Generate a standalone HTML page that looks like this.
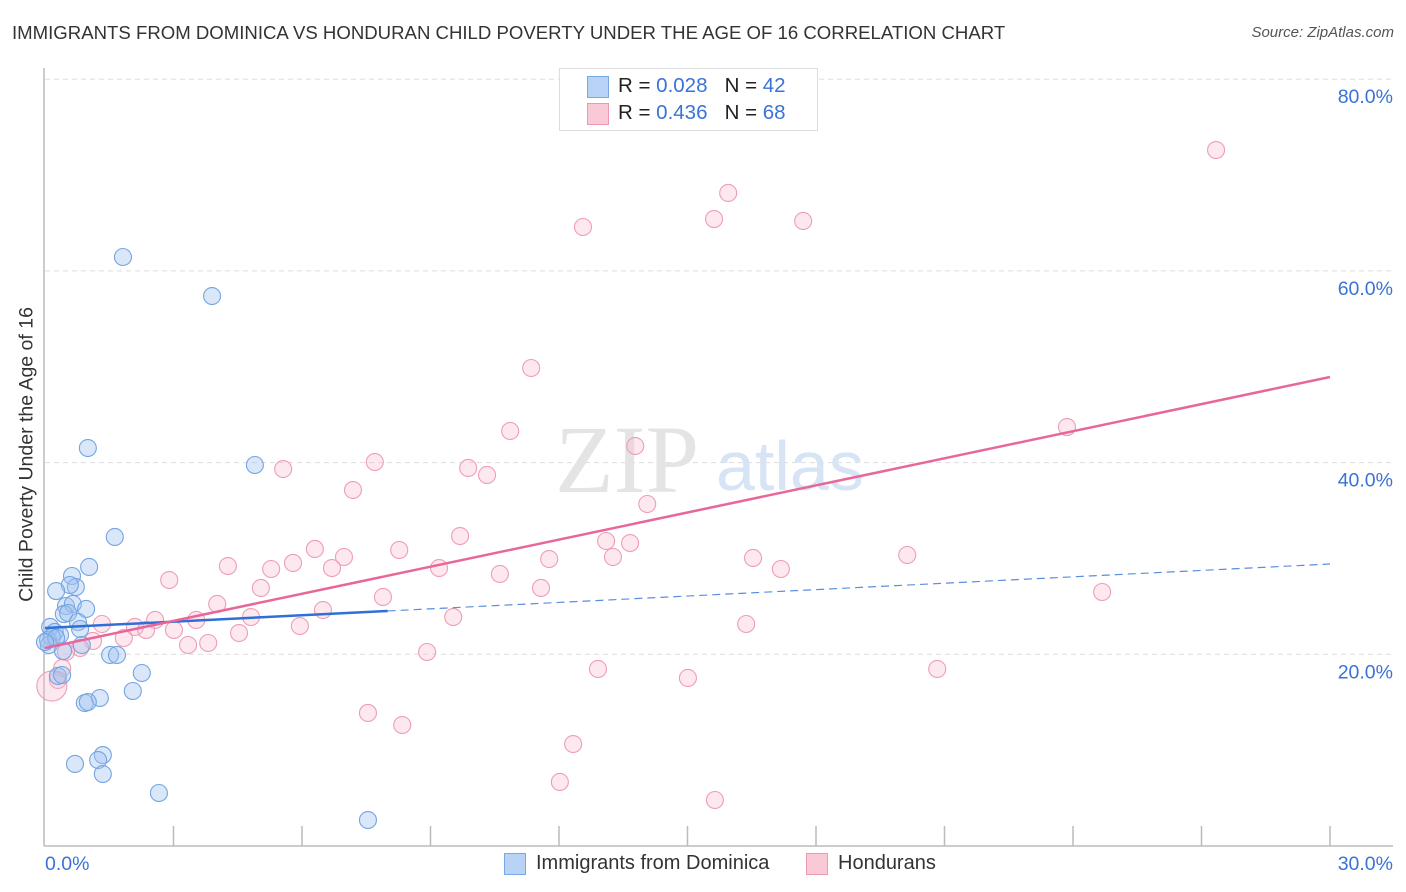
<!DOCTYPE html>
<html><head><meta charset="utf-8">
<style>
body{margin:0;background:#fff;font-family:"Liberation Sans",sans-serif;}
#wrap{position:relative;width:1406px;height:892px;overflow:hidden;}
.t{position:absolute;white-space:nowrap;}
</style></head>
<body>
<div id="wrap">
<div class="t" style="left:12px;top:22px;font-size:18.6px;color:#333;">IMMIGRANTS FROM DOMINICA VS HONDURAN CHILD POVERTY UNDER THE AGE OF 16 CORRELATION CHART</div>
<div class="t" style="right:12px;top:24px;font-size:15px;color:#555;font-style:italic;">Source: ZipAtlas.com</div>
<div class="t" style="left:-123px;top:443px;font-size:19.5px;color:#333;transform:rotate(-90deg);width:300px;text-align:center;">Child Poverty Under the Age of 16</div>
<svg id="svg" width="1406" height="892" style="position:absolute;left:0;top:0"></svg>
<div style="position:absolute;left:559px;top:68px;width:257px;height:61px;border:1px solid #ddd;background:#fff;">
 <div style="position:absolute;left:27px;top:7px;width:20px;height:20px;background:#b8d3f5;border:1px solid #7aa8e6;"></div>
 <div class="t" style="left:58px;top:5px;font-size:20.5px;color:#222;">R = <span style="color:#3a73d8">0.028</span>&nbsp;&nbsp;&nbsp;N = <span style="color:#3a73d8">42</span></div>
 <div style="position:absolute;left:27px;top:34px;width:20px;height:20px;background:#f9c9d6;border:1px solid #ec9ab3;"></div>
 <div class="t" style="left:58px;top:32px;font-size:20.5px;color:#222;">R = <span style="color:#3a73d8">0.436</span>&nbsp;&nbsp;&nbsp;N = <span style="color:#3a73d8">68</span></div>
</div>
<div style="position:absolute;left:504px;top:853px;width:20px;height:20px;background:#b8d3f5;border:1px solid #7aa8e6;"></div>
<div class="t" style="left:536px;top:852px;font-size:20px;color:#333;">Immigrants from Dominica</div>
<div style="position:absolute;left:806px;top:853px;width:20px;height:20px;background:#f9c9d6;border:1px solid #ec9ab3;"></div>
<div class="t" style="left:838px;top:852px;font-size:20px;color:#333;">Hondurans</div>
</div>
<script>
const blueX=[1.82,3.90,1.00,4.90,1.63,1.03,0.63,0.72,0.58,0.26,0.49,0.65,0.96,0.44,0.54,0.77,0.82,0.12,0.23,0.35,0.07,0.16,0.09,0.42,0.86,1.52,1.68,2.26,0.30,0.40,2.05,1.28,0.93,1.00,1.35,0.70,1.24,1.35,2.66,7.54,0.26,0.00];
const blueY=[61.45,57.38,41.52,39.75,32.24,29.11,28.17,27.02,27.23,26.60,25.04,25.25,24.73,24.20,24.31,23.37,22.64,22.85,22.33,22.01,21.49,21.80,20.97,20.34,20.97,19.93,19.93,18.05,17.74,17.84,16.17,15.44,14.92,15.02,9.49,8.56,8.97,7.51,5.53,2.71,21.70,21.28];
const pinkX=[27.34,15.95,12.56,15.62,17.70,11.35,23.86,10.86,13.78,7.70,5.56,9.88,10.32,7.19,14.06,9.69,13.10,13.66,6.30,8.27,6.98,5.79,11.77,16.53,20.13,13.26,4.27,5.28,6.70,9.20,10.62,2.90,17.18,5.04,11.58,24.68,7.89,4.02,6.49,9.53,4.81,2.57,3.53,2.10,2.36,1.33,3.01,5.95,16.37,4.53,1.84,1.12,3.81,3.34,0.82,0.49,8.92,12.91,20.83,15.01,0.40,0.30,7.54,8.34,12.33,12.02,15.64,0.16];
const pinkY=[72.61,68.13,64.58,65.41,65.21,49.87,43.71,43.30,41.73,40.06,39.33,39.44,38.71,37.14,35.68,32.34,31.82,31.61,30.99,30.88,30.15,29.53,29.94,30.05,30.36,30.15,29.21,28.90,29.00,29.00,28.38,27.75,28.90,26.92,26.92,26.50,25.98,25.25,24.62,23.89,23.89,23.58,23.58,22.85,22.54,23.16,22.54,22.95,23.16,22.22,21.70,21.39,21.18,20.97,20.66,20.24,20.24,18.47,18.47,17.53,18.57,17.32,13.88,12.62,10.64,6.68,4.80,16.69];
const yTicks=[20,40,60,80];
const yTickLabels=["20.0%","40.0%","60.0%","80.0%"];
const xTickLabels=["0.0%","30.0%"];
const blueTrend=[22.74,29.42];
const pinkTrend=[20.66,48.93];
const blueSolidEnd=8.0;

const X=v=>45+v*(1285/30);
const Y=v=>846-v*9.585;
const svg=document.getElementById('svg');
const NS='http://www.w3.org/2000/svg';
function mk(t,a){const e=document.createElementNS(NS,t);for(const k in a)e.setAttribute(k,a[k]);svg.appendChild(e);return e;}
yTicks.forEach((v,i)=>{
 const g=mk('line',{x1:45,x2:1393,y1:Y(v),y2:Y(v),stroke:'#ddd','stroke-dasharray':'5,4'});
 
 
 const t=mk('text',{x:1393,y:Y(v)+24,'text-anchor':'end','font-size':19.5,fill:'#3a73d8','font-family':'Liberation Sans, sans-serif'});
 t.textContent=yTickLabels[i];
 
 
});
const ax=mk('line',{x1:44,x2:44,y1:68,y2:846,stroke:'#bbb','stroke-width':1.5});


const bx=mk('line',{x1:44,x2:1393,y1:846,y2:846,stroke:'#bbb','stroke-width':1.5});


for(let i=1;i<=10;i++){const tk=mk('line',{x1:X(i*3),x2:X(i*3),y1:826,y2:846,stroke:'#bbb','stroke-width':1.5});
 
 }
[[0,'start',45],[1,'end',1393]].forEach(([i,a,x])=>{const t=mk('text',{x:x,y:870,'text-anchor':a,'font-size':19.5,fill:'#3a73d8','font-family':'Liberation Sans, sans-serif'});t.textContent=xTickLabels[i];
 
 });
const wm=mk('text',{x:555,y:492,'font-size':96,fill:'#e4e4e4','font-family':'Liberation Serif, serif'});wm.textContent='ZIP';


const wm2=mk('text',{x:716,y:490,'font-size':70,fill:'#d6e4f6','font-family':'Liberation Sans, sans-serif'});wm2.textContent='atlas';


pinkX.forEach((x,i)=>{const c=mk('circle',{cx:X(x),cy:Y(pinkY[i]),r:i==pinkX.length-1?15:8.5,fill:'rgba(248,188,208,0.35)',stroke:'#ee9db5','stroke-width':1.1});
 
 });
blueX.forEach((x,i)=>{const c=mk('circle',{cx:X(x),cy:Y(blueY[i]),r:8.5,fill:'rgba(160,196,240,0.4)',stroke:'#74a4e2','stroke-width':1.1});
 
 });
const bt=v=>blueTrend[0]+(blueTrend[1]-blueTrend[0])*v/30;
const l1=mk('line',{x1:X(0),y1:Y(bt(0)),x2:X(blueSolidEnd),y2:Y(bt(blueSolidEnd)),stroke:'#2f6fd6','stroke-width':2.5});


const l2=mk('line',{x1:X(blueSolidEnd),y1:Y(bt(blueSolidEnd)),x2:X(30),y2:Y(bt(30)),stroke:'#5a8ee0','stroke-width':1.2,'stroke-dasharray':'8,5'});


const l3=mk('line',{x1:X(0),y1:Y(pinkTrend[0]),x2:X(30),y2:Y(pinkTrend[1]),stroke:'#e8679a','stroke-width':2.5});


</script>
</body></html>
